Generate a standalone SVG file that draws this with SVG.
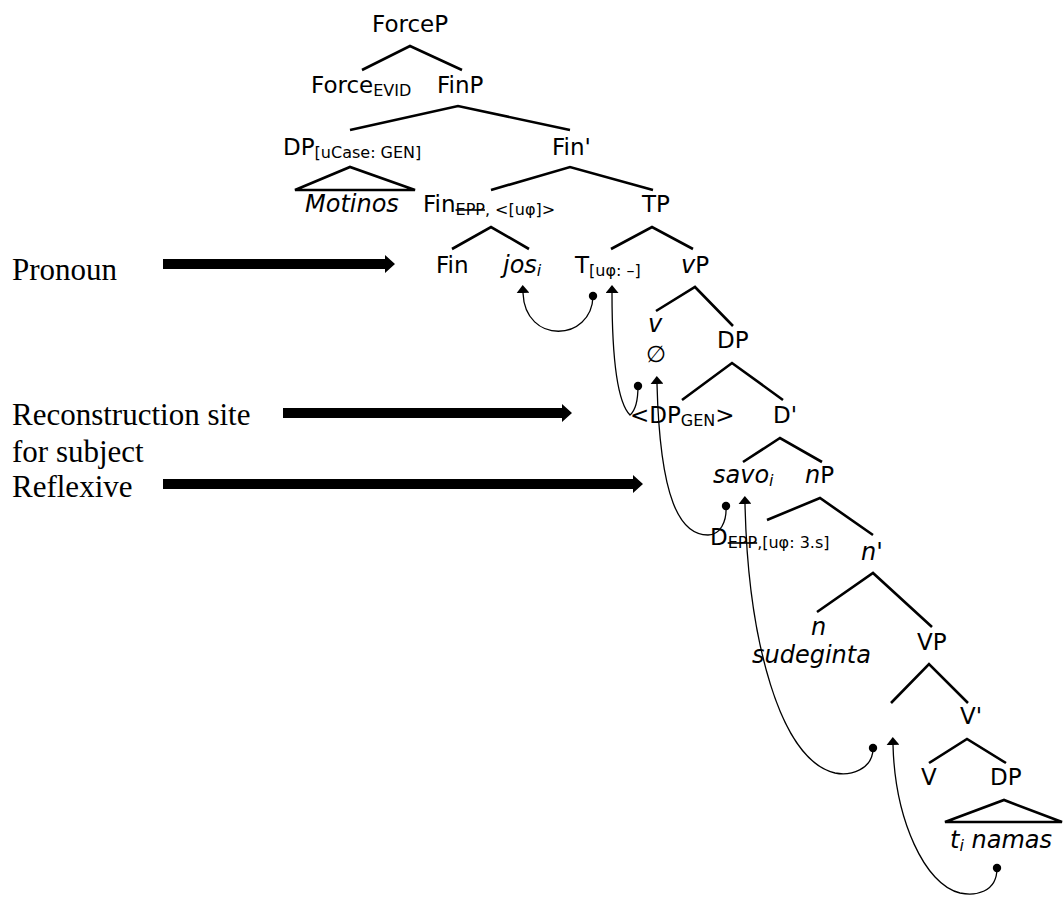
<svg xmlns="http://www.w3.org/2000/svg" width="1063" height="897" viewBox="0 0 1063 897">
<style>
.t{font-family:"DejaVu Sans",sans-serif;font-size:23px;fill:#000}
.it{font-style:italic;font-size:24px}
.sub{font-size:16px}
.strike{text-decoration:line-through}
.lbl{font-family:"Liberation Serif","Times New Roman",serif;font-size:31px;fill:#000}
.edge{stroke:#000;stroke-width:2.6;fill:none;stroke-linecap:butt}
.move{stroke:#000;stroke-width:1.3;fill:none}
.big{fill:#000}
</style>
<defs>
<marker id="ah" viewBox="0 0 8 13" refX="0" refY="6.5" markerWidth="8" markerHeight="13" markerUnits="userSpaceOnUse" orient="auto"><path d="M0,0 L8,6.5 L0,13 z" fill="#000"/></marker>
<marker id="dot" viewBox="-5 -5 10 10" refX="0" refY="0" markerWidth="10" markerHeight="10" markerUnits="userSpaceOnUse"><circle r="4.2" fill="#000"/></marker>
</defs>
<rect width="1063" height="897" fill="#fff"/>

<g id="connectors">
<path class="edge" d="M362,70 L410,46 L462,70"/>
<path class="edge" d="M350,130 L458,106 L570,130"/>
<path class="edge" d="M295,190 L350,167 L415,190 Z"/>
<path class="edge" d="M491,190 L570,167 L653,190"/>
<path class="edge" d="M452,249 L491,227 L529,249"/>
<path class="edge" d="M611,249 L652,227 L693,249"/>
<path class="edge" d="M656,311 L695,287 L733,326"/>
<path class="edge" d="M682,400 L732,363 L783,400"/>
<path class="edge" d="M743,462 L780,438 L822,462"/>
<path class="edge" d="M767,520 L820,498 L873,535"/>
<path class="edge" d="M817,612 L873,573 L932,627"/>
<path class="edge" d="M891,703 L929,664 L968,703"/>
<path class="edge" d="M929,763 L967,739 L1006,763"/>
<path class="edge" d="M945,822 L1004,800 L1062,822 Z"/>
<path class="move" marker-start="url(#dot)" marker-end="url(#ah)" d="M593,296 C592,342 525,345 523,293"/>
<path class="move" marker-start="url(#dot)" marker-end="url(#ah)" d="M638,386 C638,400 636,410 630,415 C620,405 612,370 612,293"/>
<path class="move" marker-start="url(#dot)" marker-end="url(#ah)" d="M726,506 C727,522 720,535 708,535 C680,535 660,500 657,384"/>
<path class="move" marker-start="url(#dot)" marker-end="url(#ah)" d="M873,748 C873,770 850,776 835,773 C780,760 748,640 745,504"/>
<path class="move" marker-start="url(#dot)" marker-end="url(#ah)" d="M997,868 C997,893 975,896 960,893 C925,885 895,820 893,745"/>
</g>

<g id="ForceP"><text class="t" x="372" y="32">ForceP</text></g>
<g id="ForceEVID"><text class="t" x="311" y="93">Force<tspan class="sub" dy="3">EVID</tspan></text></g>
<g id="FinP"><text class="t" x="437" y="93">FinP</text></g>
<g id="DPuCase"><text class="t" x="283" y="155">DP<tspan class="sub" dy="3">[uCase: GEN]</tspan></text></g>
<g id="FinBar"><text class="t" x="552" y="155">Fin'</text></g>
<g id="Motinos"><text class="t it" x="305" y="212">Motinos</text></g>
<g id="FinEPP"><text class="t" x="423" y="212">Fin<tspan class="sub strike" dy="3">EPP</tspan><tspan class="sub">, &lt;[uφ]&gt;</tspan></text></g>
<g id="TP"><text class="t" x="642" y="212">TP</text></g>
<g id="Fin"><text class="t" x="436" y="273">Fin</text></g>
<g id="jos"><text class="t it" x="503" y="273">jos<tspan class="sub" dy="3">i</tspan></text></g>
<g id="T"><text class="t" x="575" y="273">T<tspan class="sub" dy="3">[uφ: –]</tspan></text></g>
<g id="vP"><text class="t" x="681" y="273"><tspan class="it">v</tspan>P</text></g>
<g id="v"><text class="t it" x="648" y="332">v</text><text class="t" x="646" y="362" font-size="19">∅</text></g>
<g id="DP1"><text class="t" x="717" y="348">DP</text></g>
<g id="DPGEN"><text class="t" x="630" y="423">&lt;DP<tspan class="sub" dy="3">GEN</tspan><tspan dy="-3">&gt;</tspan></text></g>
<g id="Dbar"><text class="t" x="773" y="423">D'</text></g>
<g id="savo"><text class="t it" x="713" y="483">savo<tspan class="sub" dy="3">i</tspan></text></g>
<g id="nP"><text class="t" x="805" y="483"><tspan class="it">n</tspan>P</text></g>
<g id="DEPP"><text class="t" x="710" y="545">D<tspan class="sub strike" dy="3">EPP</tspan><tspan class="sub">,[uφ: 3.s]</tspan></text></g>
<g id="nbar"><text class="t it" x="861" y="560">n'</text></g>
<g id="n"><text class="t it" x="811" y="635">n</text><text class="t it" x="752" y="663">sudeginta</text></g>
<g id="VP"><text class="t" x="917" y="650">VP</text></g>
<g id="Vbar"><text class="t" x="960" y="724">V'</text></g>
<g id="V"><text class="t" x="921" y="785">V</text></g>
<g id="DP2"><text class="t" x="990" y="785">DP</text></g>
<g id="namas"><text class="t it" x="950" y="848">t<tspan class="sub" dy="3">i</tspan><tspan dy="-3"> namas</tspan></text></g>

<g id="label-pronoun">
<text class="lbl" x="12" y="280">Pronoun</text>
<polygon class="big" points="163,259 385,259 385,255 395,264 385,273 385,269 163,269"/>
</g>
<g id="label-reconstruction">
<text class="lbl" x="12" y="425">Reconstruction site</text>
<text class="lbl" x="12" y="462">for subject</text>
<polygon class="big" points="283,408 562,408 562,404 572,413 562,422 562,418 283,418"/>
</g>
<g id="label-reflexive">
<text class="lbl" x="12" y="497">Reflexive</text>
<polygon class="big" points="163,479 633,479 633,475 643,484 633,493 633,489 163,489"/>
</g>
</svg>
